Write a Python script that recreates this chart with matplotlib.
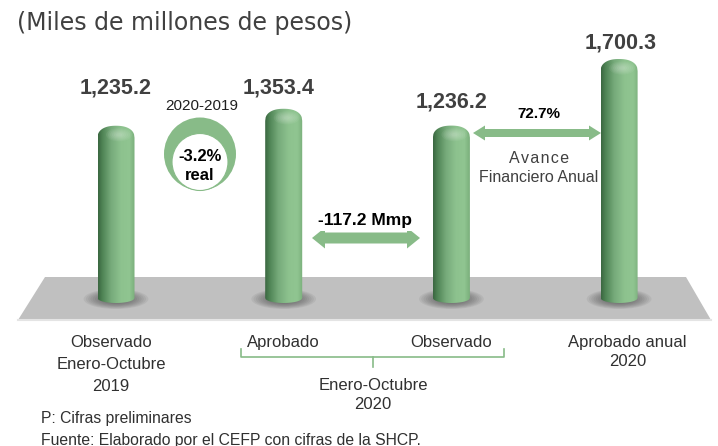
import numpy as np
import matplotlib.pyplot as plt
from matplotlib.patches import Polygon, PathPatch, Ellipse
from matplotlib.path import Path
from matplotlib.colors import LinearSegmentedColormap
from matplotlib.lines import Line2D
import matplotlib.transforms as mtransforms

plt.rcParams['font.family'] = ['Liberation Sans', 'DejaVu Sans']

# data
categories = ['Observado\nEnero-Octubre\n2019', 'Aprobado', 'Observado', 'Aprobado anual\n2020']
values = [1235.2, 1353.4, 1236.2, 1700.3]
group_label = 'Enero-Octubre\n2020'
real_change = '-3.2%\nreal'
change_period = '2020-2019'
title = '(Miles de millones de pesos)'
notes = ['P: Cifras preliminares', 'Fuente: Elaborado por el CEFP con cifras de la SHCP.']

diff = values[2] - values[1]
advance = values[2] / values[3] * 100

W, H = 718, 446
fig = plt.figure(figsize=(W / 100, H / 100), dpi=100)
ax = fig.add_axes([0, 0, 1, 1])
ax.axis('off')

# pixel layout: bar centres 116 + 167.7*i, value 0 at row 303
step = 167.7
k = 1700.3 / 244
ax.set_xlim(-116 / step, (W - 116) / step)
ax.set_ylim(-(H - 303) * k, 303 * k)

def fx(px):
    return px / W

def fy(py):
    return 1 - py / H

bt = mtransforms.blended_transform_factory(ax.transData, fig.transFigure)
ft = fig.transFigure

green = '#88bb88'
dark = '#404040'

# floor
floor = Polygon([(fx(45), fy(277)), (fx(686), fy(277)), (fx(711), fy(320)), (fx(18), fy(320))],
                closed=True, facecolor='#c0c0c0', edgecolor='none', transform=ft, zorder=1)
ax.add_patch(floor)
ax.add_line(Line2D([fx(18), fx(711)], [fy(320), fy(320)], color='#e4e4e4', lw=1.5, transform=ft, zorder=1))

xpos = np.arange(len(values))
bw = 37 / step
bars = ax.bar(xpos, values, width=bw, color='none', edgecolor='none', zorder=3)

cmap = LinearSegmentedColormap.from_list('cyl', [
    (0.00, '#3a6640'), (0.12, '#4f8455'), (0.35, '#76aa7a'),
    (0.62, '#8dc28e'), (0.85, '#90c591'), (1.00, '#7aaf7b')])
grad = np.linspace(0, 1, 256).reshape(1, -1)

cap = 12 * k
base = 5 * k
t = np.linspace(-1, 1, 80)
for rect in bars:
    x0 = rect.get_x()
    w = rect.get_width()
    h = rect.get_height()
    cx = x0 + w / 2

    # shadow at the base
    for i in range(10):
        s = 1 - i * 0.07
        ax.add_patch(Ellipse((cx, 4 * k), w * 1.75 * s, 20 * k * s,
                             facecolor='#303030', edgecolor='none', alpha=0.07, zorder=2))

    top_y = h - cap + cap * (1 - np.abs(t) ** 2.3) ** (1 / 2.3)
    bot_y = base * (1 - np.sqrt(1 - t ** 2))
    verts = list(zip(cx + w / 2 * t, bot_y)) + list(zip(cx - w / 2 * t, top_y[::-1]))
    verts.append(verts[0])
    path = Path(verts, [Path.MOVETO] + [Path.LINETO] * (len(verts) - 2) + [Path.CLOSEPOLY])
    body = PathPatch(path, facecolor='none', edgecolor='none', zorder=3)
    ax.add_patch(body)
    im = ax.imshow(grad, cmap=cmap, extent=(x0, x0 + w, 0, h), aspect='auto', zorder=3,
                   interpolation='bilinear')
    im.set_clip_path(body)
    for i in range(6):
        s = 1 - i * 0.15
        hl = Ellipse((cx + 0.08 * w, h - cap * 0.75), w * 0.7 * s, cap * 1.1 * s,
                     facecolor='white', edgecolor='none', alpha=0.06, zorder=4)
        ax.add_patch(hl)
        hl.set_clip_path(body)

ax.set_xlim(-116 / step, (W - 116) / step)
ax.set_ylim(-(H - 303) * k, 303 * k)

# value labels
label_rows = [88, 88, 102, 43]
label_shift = [0, -0.03, 0, 0.01]
for x, v, row, dx in zip(xpos, values, label_rows, label_shift):
    ax.text(x + dx, fy(row), f'{v:,.1f}', transform=bt, ha='center', va='center',
            fontsize=15.5, fontweight='bold', color=dark)

# category labels
cat_spacing = [1.6, 1.6, 1.6, 1.3]
cat_shift = [-0.03, 0, 0, 0.05]
for x, c, ls, dx in zip(xpos, categories, cat_spacing, cat_shift):
    ax.text(x + dx, fy(335), c, transform=bt, ha='center', va='top', fontsize=12,
            color='#303030', linespacing=ls)

# bracket for the 2020 pair
bx0, bx1, bxm = fx(241), fx(504), fx(373)
ax.add_line(Line2D([bx0, bx0, bx1, bx1], [fy(349), fy(357), fy(357), fy(349)],
                   color=green, lw=1.2, transform=ft, zorder=5))
ax.add_line(Line2D([bxm, bxm], [fy(357), fy(367)], color=green, lw=1.2, transform=ft, zorder=5))
fig.text(fx(373), fy(378), group_label, ha='center', va='top', fontsize=12,
         color='#303030', linespacing=1.3)

# real change badge
ax.add_patch(Ellipse((fx(200), fy(154)), 72 / W, 73 / H, facecolor=green, edgecolor='none',
                     transform=ft, zorder=5))
ax.add_patch(Ellipse((fx(200), fy(162)), 56 / W, 57 / H, facecolor='white', edgecolor=green,
                     lw=0.8, transform=ft, zorder=6))
fig.text(fx(200), fy(166), real_change, ha='center', va='center', fontsize=12,
         fontweight='bold', color='black', linespacing=1.35, zorder=7)
fig.text(fx(202), fy(106), change_period, ha='center', va='center', fontsize=11,
         color='#202020')


def double_arrow(x0, x1, yc, shaft, head, hlen):
    pts = [(x0, yc), (x0 + hlen, yc - head), (x0 + hlen, yc - shaft), (x1 - hlen, yc - shaft),
           (x1 - hlen, yc - head), (x1, yc), (x1 - hlen, yc + head), (x1 - hlen, yc + shaft),
           (x0 + hlen, yc + shaft), (x0 + hlen, yc + head)]
    return Polygon([(fx(a), fy(b)) for a, b in pts], closed=True, facecolor=green,
                   edgecolor='none', transform=ft, zorder=5)

ax.add_patch(double_arrow(312, 420, 238, 5.5, 10.5, 13))
fig.text(fx(365), fy(221), f'{diff:.1f} Mmp', ha='center', va='center', fontsize=12.5,
         fontweight='bold', color='black', zorder=8,
         bbox=dict(facecolor='white', edgecolor='none', pad=1.5))

ax.add_patch(double_arrow(473, 601, 133, 4, 7.5, 12))
fig.text(fx(539), fy(114), f'{advance:.1f}%', ha='center', va='center', fontsize=11,
         fontweight='bold', color='black')
fig.text(fx(539), fy(168), 'A\u200av\u200aa\u200an\u200ac\u200ae\nFinanciero Anual', ha='center',
         va='center', fontsize=11.5, color=dark, linespacing=1.3)

# title and notes
fig.text(fx(17), fy(23), title, ha='left', va='center', fontsize=17, color=dark,
         family='DejaVu Sans')
fig.text(fx(41), fy(418), notes[0], ha='left', va='center', fontsize=11.3, color='#303030')
fig.text(fx(41), fy(440), notes[1], ha='left', va='center', fontsize=11.3, color='#303030')

fig.savefig('out.png', dpi=100)
